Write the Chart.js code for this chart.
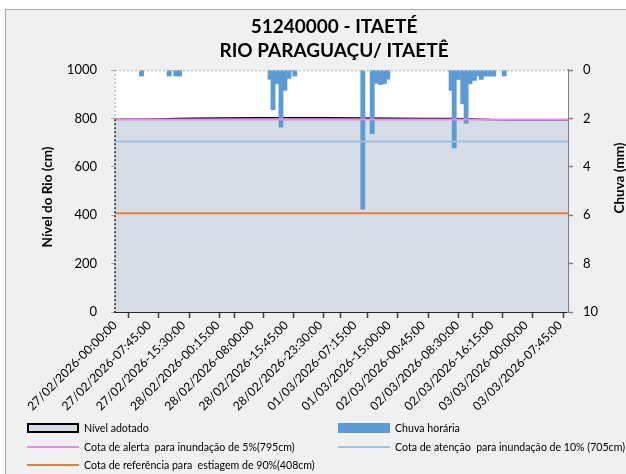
<!DOCTYPE html>
<html><head><meta charset="utf-8">
<script src="https://cdn.jsdelivr.net/npm/chart.js@4.4.1/dist/chart.umd.min.js"></script>
<style>
html,body{margin:0;padding:0;width:626px;height:474px;overflow:hidden;background:#fff;font-family:Lato,"DejaVu Sans",sans-serif;}
#frame{position:absolute;left:5px;top:9px;width:700px;height:500px;background:#f0f0f0;border-left:1px solid #a6a6a6;border-top:1px solid #a6a6a6;}
#c{position:absolute;left:0;top:0;}
.lt{position:absolute;font-size:10.6px;color:#000;white-space:pre;line-height:12px;}
.sw{position:absolute;box-sizing:border-box;}
</style></head><body>
<div id="frame"></div>
<canvas id="c" width="668" height="474"></canvas>
<div id="legend"></div>
<script>
// ---- data ----
const titleLines = ['51240000 - ITAETÉ', 'RIO PARAGUAÇU/ ITAETÊ'];
const xTickLabels = ['27/02/2026-00:00:00','27/02/2026-07:45:00','27/02/2026-15:30:00','28/02/2026-00:15:00',
  '28/02/2026-08:00:00','28/02/2026-15:45:00','28/02/2026-23:30:00','01/03/2026-07:15:00','01/03/2026-15:00:00',
  '02/03/2026-00:45:00','02/03/2026-08:30:00','02/03/2026-16:15:00','03/03/2026-00:00:00','03/03/2026-07:45:00'];
const lastIndex = 410;      // index of last 15-min reading
const labelEvery = 31;      // a date label every 31 readings
const tickEvery = 24;       // tick marks every 24 readings
// water level (cm) read at reading index
const levelIdx = [0, 20, 40, 55, 70, 100, 130, 160, 190, 220, 250, 280, 300, 320, 330, 340, 360, 390, 410];
const levelCm  = [796, 797, 798, 800, 801, 802, 803, 803, 803, 802, 801, 800, 800, 799, 797, 795, 794, 794, 794];
// hourly rain (mm) at reading index
const rainIdx = [24, 49, 55, 58.4, 140.3, 143, 146.6, 150.2, 153.8, 157.5, 162.7,
  224.3, 232.8, 236.4, 240.3, 243.9, 246.9,
  304.2, 307, 310.7, 314.7, 317.8, 321.3, 325.3, 328.8, 331.5, 335.2, 339, 342.8, 352.3];
const rainMm  = [0.25, 0.25, 0.25, 0.25, 0.38, 1.64, 0.57, 2.36, 0.84, 0.35, 0.25,
  5.75, 2.63, 0.55, 0.6, 0.56, 0.38,
  0.84, 3.22, 0.39, 1.4, 2.2, 0.57, 0.43, 0.25, 0.39, 0.25, 0.25, 0.25, 0.25];
const alertCm = 795, attentionCm = 705, droughtCm = 408;
const seriesNames = ['Nível adotado', 'Chuva horária', 'Cota de alerta  para inundação de 5%(795cm)',
  'Cota de atenção  para inundação de 10% (705cm)', 'Cota de referência para  estiagem de 90%(408cm)'];
const leftTitle = 'Nível do Rio (cm)', rightTitle = 'Chuva (mm)';

const FONT = 'Lato, "DejaVu Sans", sans-serif';
const flat = v => [{x: 0, y: v}, {x: lastIndex, y: v}];

const decor = {
  id: 'decor',
  beforeDatasetsDraw(chart) {
    const {ctx, chartArea: a} = chart;
    ctx.save(); ctx.fillStyle = '#fff'; ctx.fillRect(a.left, a.top, a.right - a.left, a.bottom - a.top); ctx.restore();
  },
  afterDraw(chart) {
    const {ctx, chartArea: a, scales} = chart;
    ctx.save();
    ctx.setLineDash([2, 2]); ctx.lineWidth = 1.5;
    ctx.strokeStyle = '#bfbfbf';
    ctx.beginPath(); ctx.moveTo(a.left, a.top + 0.5); ctx.lineTo(a.right, a.top + 0.5); ctx.stroke();
    const yl = scales.y.getPixelForValue(levelCm[0]);
    ctx.beginPath(); ctx.moveTo(a.left, a.top); ctx.lineTo(a.left, yl); ctx.stroke();
    ctx.strokeStyle = '#262626';
    ctx.beginPath(); ctx.moveTo(a.left, yl); ctx.lineTo(a.left, a.bottom); ctx.stroke();
    ctx.setLineDash([]);
    ctx.fillStyle = '#000'; ctx.font = 'bold 13.5px ' + FONT; ctx.textAlign = 'center'; ctx.textBaseline = 'middle';
    ctx.translate(48, 197); ctx.rotate(-Math.PI / 2); ctx.fillText(leftTitle, 0, 0);
    ctx.setTransform(1, 0, 0, 1, 0, 0);
    ctx.translate(620, 178); ctx.rotate(-Math.PI / 2); ctx.fillText(rightTitle, 0, 0);
    ctx.restore();
  }
};

const xTicks = [];
for (let v = 0; v <= lastIndex; v++) if (v % labelEvery === 0 || v % tickEvery === 0) xTicks.push(v);

new Chart(document.getElementById('c'), {
  type: 'line',
  data: {
    datasets: [
      {label: seriesNames[0], data: levelIdx.map((x, i) => ({x, y: levelCm[i]})), yAxisID: 'y',
       fill: 'origin', backgroundColor: '#d6dce5', borderColor: '#000', borderWidth: 1.5, pointRadius: 0, order: 3},
      {type: 'bar', label: seriesNames[1], data: rainIdx.map((x, i) => ({x, y: rainMm[i]})), yAxisID: 'y2',
       backgroundColor: '#5b9bd5', borderWidth: 0, barThickness: 4.2, order: 2},
      {label: seriesNames[2], data: flat(alertCm), yAxisID: 'y', borderColor: '#e58ee5', borderWidth: 2, pointRadius: 0, order: 1},
      {label: seriesNames[3], data: flat(attentionCm), yAxisID: 'y', borderColor: '#9dc3e6', borderWidth: 2, pointRadius: 0, order: 1},
      {label: seriesNames[4], data: flat(droughtCm), yAxisID: 'y', borderColor: '#ed7d31', borderWidth: 2, pointRadius: 0, order: 1}
    ]
  },
  options: {
    responsive: false, animation: false,
    layout: {padding: {left: 0, right: 0, top: 0, bottom: 62}},
    plugins: {
      legend: {display: false}, tooltip: {enabled: false},
      title: {display: true, text: titleLines, color: '#000', font: {family: FONT, size: 19, weight: 'bold', lineHeight: 1.25},
              padding: {top: 15, bottom: 7.5}}
    },
    scales: {
      x: {type: 'linear', min: 0, max: lastIndex, offset: false,
          afterBuildTicks: s => { s.ticks = xTicks.map(v => ({value: v})); },
          afterFit: s => { s.height = 100; },
          ticks: {autoSkip: false, maxRotation: 45, minRotation: 45, padding: 0, color: '#000',
                  font: {family: FONT, size: 12.2},
                  callback: v => (v % labelEvery === 0 ? xTickLabels[v / labelEvery] : '')},
          grid: {drawOnChartArea: false, tickLength: 6, tickWidth: 1.5,
                 tickColor: c => (c.tick && c.tick.value % tickEvery === 0 ? '#404040' : 'rgba(0,0,0,0)')},
          border: {color: '#262626', width: 2}},
      y: {position: 'left', min: 0, max: 1000,
          afterFit: s => { s.width = 115; },
          ticks: {stepSize: 200, padding: 14, color: '#000', font: {family: FONT, size: 13},
                  callback: v => String(v)},
          grid: {drawOnChartArea: false, tickLength: 4, tickColor: '#a6a6a6'},
          border: {display: false}},
      y2: {position: 'right', min: 0, max: 10, reverse: true,
          afterFit: s => { s.width = 100; },
          ticks: {stepSize: 2, padding: 10, color: '#000', font: {family: FONT, size: 13},
                  callback: v => String(v)},
          grid: {drawOnChartArea: false, tickLength: 5, tickColor: '#808080', tickWidth: 1.5},
          border: {color: '#808080', width: 2}}
    }
  },
  plugins: [decor]
});

// ---- legend (two columns, like the original) ----
const legendSpec = [
  {col: 0, row: 0, kind: 'box', fill: '#d6dce5', border: '#000'},
  {col: 1, row: 0, kind: 'box', fill: '#5b9bd5', border: null},
  {col: 0, row: 1, kind: 'line', fill: '#e58ee5'},
  {col: 1, row: 1, kind: 'line', fill: '#9dc3e6'},
  {col: 0, row: 2, kind: 'line', fill: '#ed7d31'}
];
const colX = [27, 338], rowY = [428, 447, 465];
const lg = document.getElementById('legend');
legendSpec.forEach((s, i) => {
  const sw = document.createElement('div'); sw.className = 'sw';
  const x = colX[s.col], y = rowY[s.row];
  sw.style.left = x + 'px'; sw.style.width = '52px';
  if (s.kind === 'box') {
    sw.style.top = (y - 5) + 'px'; sw.style.height = '10px'; sw.style.background = s.fill;
    if (s.border) sw.style.border = '2px solid ' + s.border;
  } else {
    sw.style.top = (y - 1) + 'px'; sw.style.height = '2px'; sw.style.background = s.fill;
  }
  lg.appendChild(sw);
  const t = document.createElement('div'); t.className = 'lt';
  t.textContent = seriesNames[i];
  t.style.left = (x + 57) + 'px'; t.style.top = (y - 6) + 'px';
  lg.appendChild(t);
});
</script>
</body></html>
